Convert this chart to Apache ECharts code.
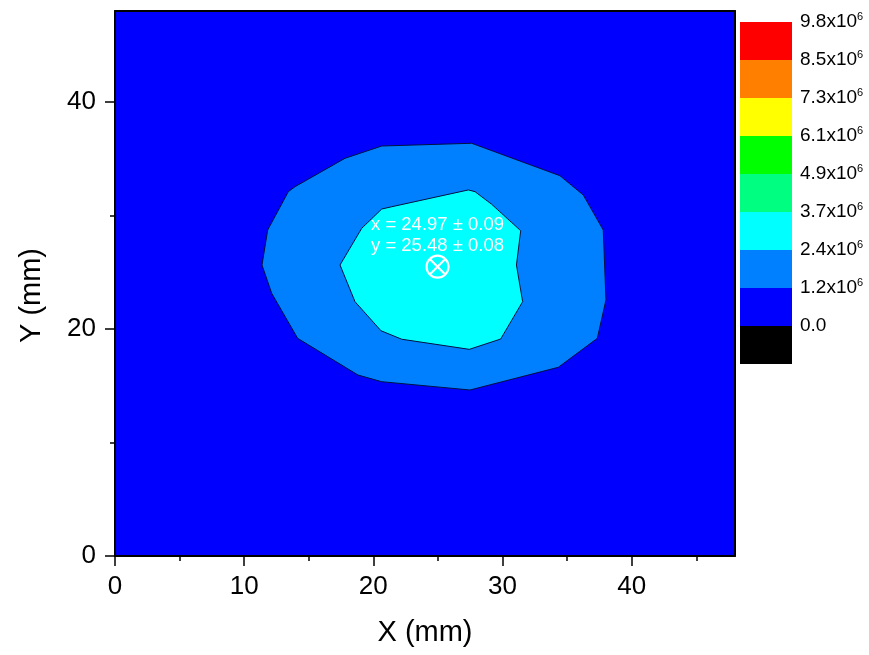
<!DOCTYPE html>
<html>
<head>
<meta charset="utf-8">
<script src="https://cdn.jsdelivr.net/npm/echarts@6/dist/echarts.min.js"></script>
<style>
  html, body { margin: 0; padding: 0; background: #ffffff; }
  #chart { width: 869px; height: 655px; }
</style>
</head>
<body>
<div id="chart"></div>
<script>
// Contour level boundaries (x10^6), listed from the bottom of the colour bar upward
const levelLabels = ['0.0', '1.2', '2.4', '3.7', '4.9', '6.1', '7.3', '8.5', '9.8'];
const levelExponent = '6';
// Fill colour of each band; band k lies just below level k (band 0 is below zero)
const bandColors = ['#000000', '#0000ff', '#0080ff', '#00ffff', '#00ff80', '#00ff00', '#ffff00', '#ff8000', '#ff0000'];

// Scanned plate extent (mm)
const xRange = [0, 48];
const yRange = [0, 48];
const xMajorTicks = [0, 10, 20, 30, 40];
const xMinorTicks = [5, 15, 25, 35, 45];
const yMajorTicks = [0, 20, 40];
const yMinorTicks = [10, 30];

// 1.2x10^6 contour (mm)
const contour12 = [
  [11.38, 25.63], [11.82, 28.71], [13.42, 32.09], [13.94, 32.53], [17.81, 35.03],
  [20.65, 36.11], [27.61, 36.35], [34.45, 33.49], [36.25, 31.80], [37.80, 28.71],
  [38.01, 22.55], [37.34, 19.17], [34.32, 16.62], [27.48, 14.62], [20.65, 15.35],
  [18.81, 15.94], [14.14, 19.17], [12.13, 23.14]
];
// 2.4x10^6 contour (mm)
const contour24 = [
  [17.42, 25.63], [19.10, 28.86], [20.65, 30.56], [21.42, 30.76], [27.35, 32.24],
  [27.87, 32.09], [29.16, 30.98], [31.41, 28.65], [31.08, 25.63], [31.56, 22.40],
  [29.86, 19.11], [27.43, 18.20], [22.20, 19.09], [20.59, 19.84], [18.58, 22.40]
];

// Fitted beam centre (mm)
const centreX = 24.97, centreXErr = 0.09;
const centreY = 25.48, centreYErr = 0.08;

const FONT = '"Liberation Sans", Arial, sans-serif';

const plateOutline = [
  [xRange[0], yRange[0]], [xRange[1], yRange[0]], [xRange[1], yRange[1]], [xRange[0], yRange[1]]
];
const regions = [
  { points: plateOutline, fill: bandColors[1], edge: false },
  { points: contour12, fill: bandColors[2], edge: true },
  { points: contour24, fill: bandColors[3], edge: true }
];

const chart = echarts.init(document.getElementById('chart'), null, { renderer: 'canvas' });

function mainAxis(extra) {
  return Object.assign({
    type: 'value',
    gridIndex: 0,
    z: 10,
    axisLine: { show: false, onZero: false },
    axisTick: { show: false },
    axisLabel: { show: false },
    splitLine: { show: false }
  }, extra);
}

const option = {
  animation: false,
  backgroundColor: '#ffffff',
  grid: [
    { left: 115, top: 11, width: 620, height: 545, containLabel: false },
    { left: 740, top: 22, width: 52, height: 342, containLabel: false }
  ],
  xAxis: [
    mainAxis({
      position: 'bottom', min: xRange[0], max: xRange[1],
      name: 'X (mm)', nameLocation: 'middle', nameGap: 62,
      nameTextStyle: { fontFamily: FONT, fontSize: 29, color: '#000' },
      axisLine: { show: true, onZero: false, lineStyle: { color: '#000', width: 2 } },
      axisTick: { show: true, customValues: xMajorTicks, length: 10, lineStyle: { color: '#000', width: 1.5 } },
      axisLabel: { show: true, customValues: xMajorTicks, margin: 18, fontFamily: FONT, fontSize: 26, color: '#000' }
    }),
    mainAxis({
      position: 'bottom', min: xRange[0], max: xRange[1],
      axisTick: { show: true, customValues: xMinorTicks, length: 5, lineStyle: { color: '#000', width: 1.5 } }
    }),
    mainAxis({
      position: 'top', min: xRange[0], max: xRange[1],
      axisLine: { show: true, onZero: false, lineStyle: { color: '#000', width: 2 } }
    }),
    { type: 'value', gridIndex: 1, min: 0, max: 1, show: false, splitLine: { show: false } }
  ],
  yAxis: [
    mainAxis({
      position: 'left', min: yRange[0], max: yRange[1],
      name: 'Y (mm)', nameLocation: 'middle', nameGap: 69, nameRotate: 90,
      nameTextStyle: { fontFamily: FONT, fontSize: 29, color: '#000', padding: [0, 24, 0, 0] },
      axisLine: { show: true, onZero: false, lineStyle: { color: '#000', width: 2 } },
      axisTick: { show: true, customValues: yMajorTicks, length: 10, lineStyle: { color: '#000', width: 1.5 } },
      axisLabel: { show: true, customValues: yMajorTicks, margin: 19, fontFamily: FONT, fontSize: 26, color: '#000' }
    }),
    mainAxis({
      position: 'left', min: yRange[0], max: yRange[1],
      axisTick: { show: true, customValues: yMinorTicks, length: 5, lineStyle: { color: '#000', width: 1.5 } }
    }),
    mainAxis({
      position: 'right', min: yRange[0], max: yRange[1],
      axisLine: { show: true, onZero: false, lineStyle: { color: '#000', width: 2 } }
    }),
    {
      type: 'value', gridIndex: 1, position: 'right',
      min: -1, max: levelLabels.length - 1, interval: 1,
      axisLine: { show: false, onZero: false },
      axisTick: { show: false },
      splitLine: { show: false },
      axisLabel: {
        show: true, margin: 8,
        formatter: function (v) {
          const i = Math.round(v);
          if (i < 0 || i >= levelLabels.length) return '';
          if (Number(levelLabels[i]) === 0) return '{m|' + levelLabels[i] + '}';
          return '{m|' + levelLabels[i] + 'x10}{e|' + levelExponent + '}';
        },
        rich: {
          m: { fontFamily: FONT, fontSize: 19, color: '#000', lineHeight: 22 },
          e: { fontFamily: FONT, fontSize: 11, color: '#000', lineHeight: 11, verticalAlign: 'top' }
        }
      }
    }
  ],
  series: [
    {
      // filled contour bands
      type: 'custom',
      xAxisIndex: 0, yAxisIndex: 0,
      silent: true,
      clip: true,
      data: regions.map(function (r, i) { return [i]; }),
      renderItem: function (params, api) {
        const r = regions[params.dataIndex];
        const pts = r.points.map(function (p) { return api.coord(p); });
        return {
          type: 'polygon',
          shape: { points: pts },
          style: {
            fill: r.fill,
            stroke: r.edge ? '#001040' : null,
            lineWidth: r.edge ? 1 : 0
          }
        };
      }
    },
    {
      // fitted centre marker with its coordinates
      type: 'custom',
      xAxisIndex: 0, yAxisIndex: 0,
      silent: true,
      z: 5,
      data: [[centreX, centreY, centreXErr, centreYErr]],
      renderItem: function (params, api) {
        const c = api.coord([api.value(0), api.value(1)]);
        const r = 11;
        const d = r * Math.SQRT1_2;
        const stroke = { stroke: '#ffffff', lineWidth: 2.2, fill: null };
        const textStyle = function (t, dy) {
          return {
            type: 'text',
            style: {
              text: t, x: c[0], y: c[1] + dy,
              fill: '#ffffff', font: '18.5px ' + FONT,
              align: 'center', verticalAlign: 'middle'
            }
          };
        };
        return {
          type: 'group',
          children: [
            { type: 'circle', shape: { cx: c[0], cy: c[1], r: r }, style: stroke },
            { type: 'line', shape: { x1: c[0] - d, y1: c[1] - d, x2: c[0] + d, y2: c[1] + d }, style: stroke },
            { type: 'line', shape: { x1: c[0] - d, y1: c[1] + d, x2: c[0] + d, y2: c[1] - d }, style: stroke },
            textStyle('x = ' + api.value(0).toFixed(2) + ' \u00b1 ' + api.value(2).toFixed(2), -42),
            textStyle('y = ' + api.value(1).toFixed(2) + ' \u00b1 ' + api.value(3).toFixed(2), -21)
          ]
        };
      }
    },
    {
      // colour bar
      type: 'custom',
      xAxisIndex: 3, yAxisIndex: 3,
      silent: true,
      data: bandColors.map(function (c, i) { return [i]; }),
      renderItem: function (params, api) {
        const k = params.dataIndex;
        const p0 = api.coord([0, k]);
        const p1 = api.coord([1, k - 1]);
        return {
          type: 'rect',
          shape: { x: p0[0], y: p0[1], width: p1[0] - p0[0], height: p1[1] - p0[1] },
          style: { fill: bandColors[k] }
        };
      }
    }
  ]
};

chart.setOption(option);
</script>
</body>
</html>
